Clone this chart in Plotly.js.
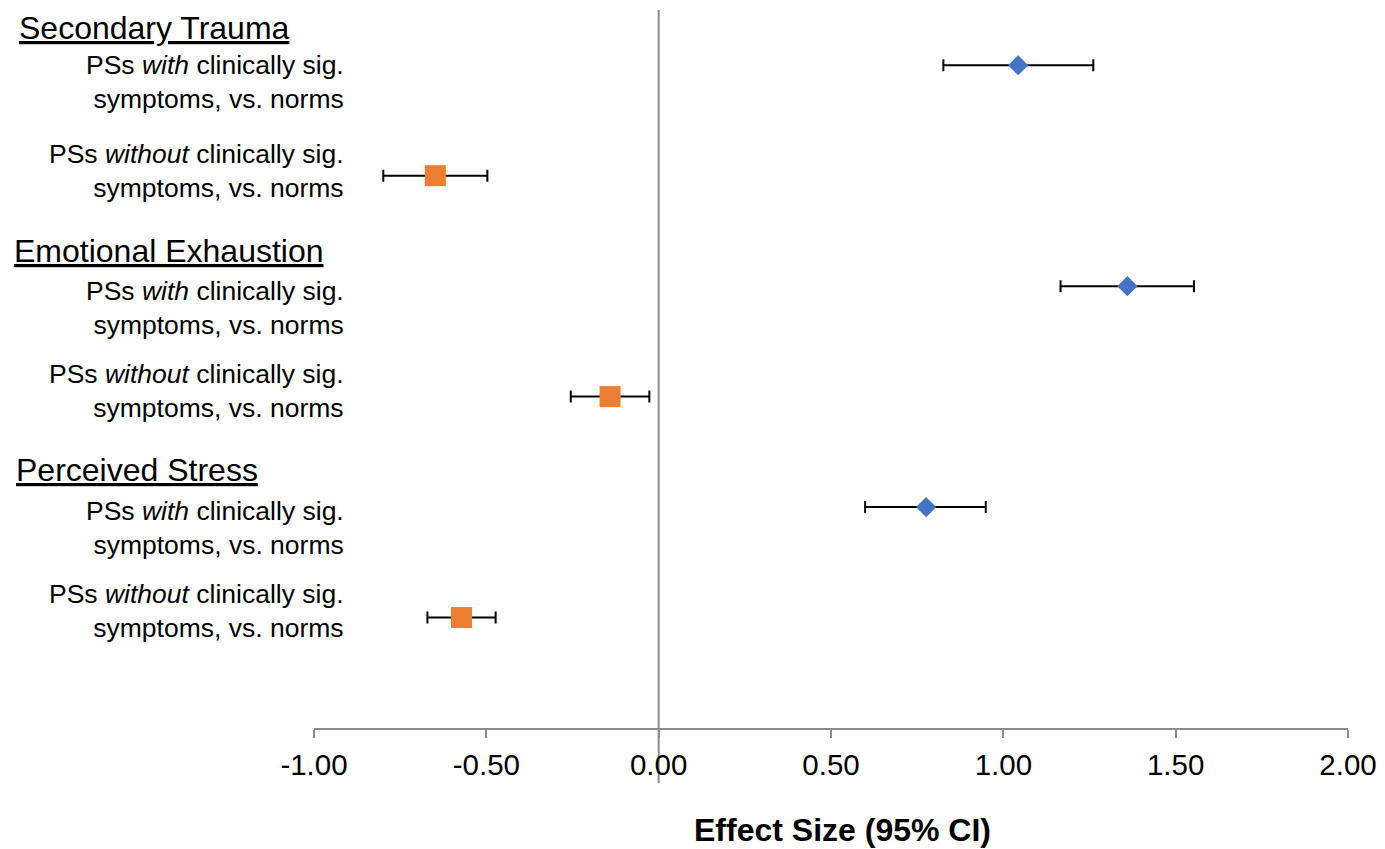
<!DOCTYPE html>
<html>
<head>
<meta charset="utf-8">
<script src="https://cdn.plot.ly/plotly-3.0.1.min.js"></script>
<style>html,body{margin:0;padding:0;background:#fff;}#chart{width:1385px;height:849px;}</style>
</head>
<body>
<div id="chart"></div>
<script>
// ---- data ----
const categories = ['Secondary Trauma', 'Emotional Exhaustion', 'Perceived Stress'];
const withLabel = 'PSs <i>with</i> clinically sig.<br>symptoms, vs. norms';
const withoutLabel = 'PSs <i>without</i> clinically sig.<br>symptoms, vs. norms';
const withEst = [1.043, 1.360, 0.776];
const withLo  = [0.826, 1.166, 0.599];
const withHi  = [1.261, 1.553, 0.949];
const withoutEst = [-0.648, -0.141, -0.572];
const withoutLo  = [-0.799, -0.255, -0.671];
const withoutHi  = [-0.497, -0.027, -0.473];
const tickVals = [-1, -0.5, 0, 0.5, 1, 1.5, 2];
const tickLabels = ['-1.00', '-0.50', '0.00', '0.50', '1.00', '1.50', '2.00'];
const xTitle = 'Effect Size (95% CI)';

// ---- layout helpers ----
const n = categories.length;
const yWith = categories.map((c, i) => 2 * (n - i));
const yWithout = categories.map((c, i) => 2 * (n - i) - 1);
const FONT = 'Arial, "Liberation Sans", sans-serif';

const ebar = (est, lo, hi) => ({
  type: 'data', symmetric: false,
  array: est.map((v, i) => hi[i] - v),
  arrayminus: est.map((v, i) => v - lo[i]),
  color: '#000000', thickness: 2, width: 6
});

const traces = [
  {
    type: 'scatter', mode: 'markers', x: withEst, y: yWith,
    marker: {symbol: 'diamond', size: 15.5, color: '#4472C4'},
    error_x: ebar(withEst, withLo, withHi), hoverinfo: 'x', showlegend: false
  },
  {
    type: 'scatter', mode: 'markers', x: withoutEst, y: yWithout,
    marker: {symbol: 'square', size: 21, color: '#ED7D31'},
    error_x: ebar(withoutEst, withoutLo, withoutHi), hoverinfo: 'x', showlegend: false
  }
];

const annotations = [];
const headerX = [-0.287, -0.292, -0.290];
const headerDy = [0.34, 0.32, 0.34];
const withDy = [-0.15, -0.2, -0.19];
const withoutDy = [0.04, 0.05, 0.06];
categories.forEach((c, i) => {
  annotations.push({
    xref: 'paper', yref: 'y', x: headerX[i], y: yWith[i] + headerDy[i],
    xanchor: 'left', yanchor: 'middle', showarrow: false,
    text: '<u>' + c + '</u>', font: {family: FONT, size: 32, color: '#000'}
  });
  annotations.push({
    xref: 'paper', yref: 'y', x: 0.031, y: yWith[i] + withDy[i],
    xanchor: 'right', yanchor: 'middle', align: 'right', showarrow: false,
    text: withLabel, font: {family: FONT, size: 26.5, color: '#000'}
  });
  annotations.push({
    xref: 'paper', yref: 'y', x: 0.031, y: yWithout[i] + withoutDy[i],
    xanchor: 'right', yanchor: 'middle', align: 'right', showarrow: false,
    text: withoutLabel, font: {family: FONT, size: 26.5, color: '#000'}
  });
});
annotations.push({
  xref: 'paper', yref: 'paper', x: 0.5116, y: -0.142,
  xanchor: 'center', yanchor: 'middle', showarrow: false,
  text: '<b>' + xTitle + '</b>', font: {family: FONT, size: 32, color: '#000'}
});

const layout = {
  width: 1385, height: 849,
  margin: {l: 314, r: 37, t: 10, b: 121},
  paper_bgcolor: '#ffffff', plot_bgcolor: '#ffffff',
  font: {family: FONT, color: '#000'},
  xaxis: {
    range: [-1, 2], tickmode: 'array', tickvals: tickVals, ticktext: tickLabels,
    showgrid: false, zeroline: false, showline: true, linecolor: '#8c8c8c', linewidth: 2,
    ticks: 'outside', ticklen: 8, tickwidth: 2, tickcolor: '#8c8c8c',
    ticklabelstandoff: 2,
    tickfont: {family: FONT, size: 29.5, color: '#000'},
    fixedrange: true
  },
  yaxis: {
    range: [0, 6.5], visible: false, showgrid: false, zeroline: false, fixedrange: true
  },
  shapes: [
    {type: 'line', xref: 'x', yref: 'paper', x0: 0, x1: 0, y0: -0.077, y1: 1,
     line: {color: '#8c8c8c', width: 2}, layer: 'below'}
  ],
  annotations: annotations,
  showlegend: false
};

Plotly.newPlot('chart', traces, layout, {displayModeBar: false, staticPlot: true});
</script>
</body>
</html>
